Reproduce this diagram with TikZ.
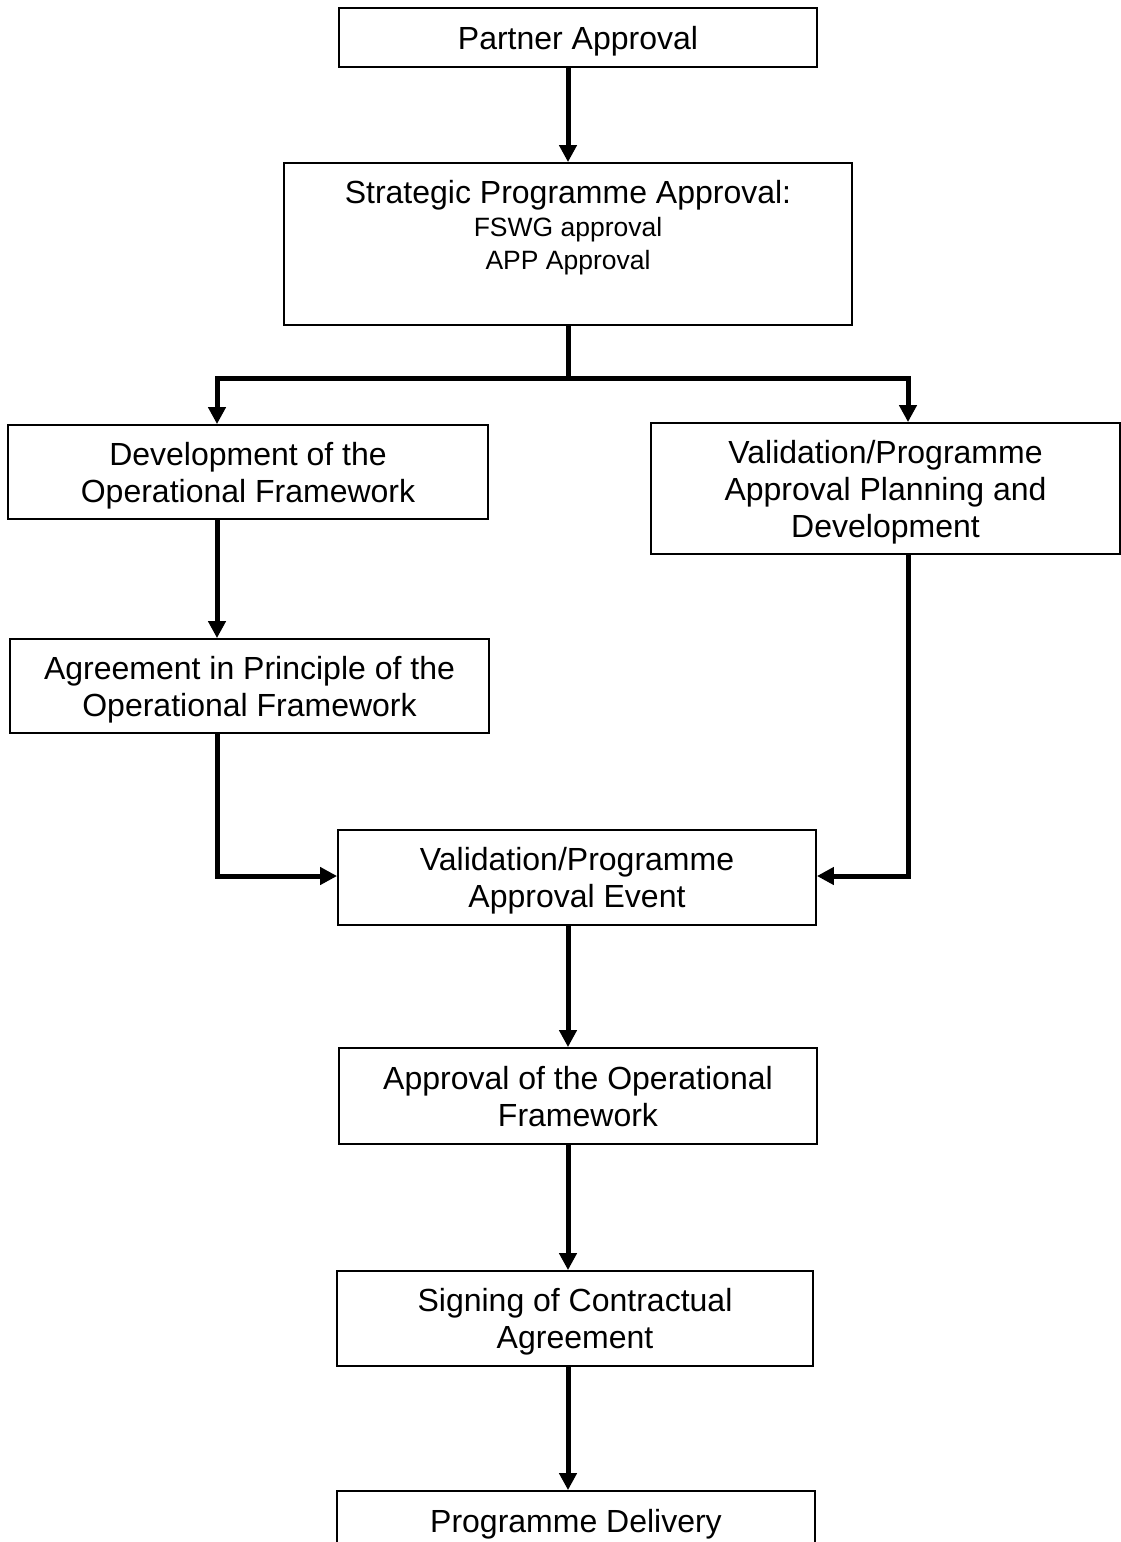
\documentclass[tikz,border=0pt]{standalone}
\usepackage{fontspec}
\setmainfont{Liberation Sans}
\usetikzlibrary{arrows.meta}
\begin{document}
\begin{tikzpicture}[x=1pt,y=-1pt,
  box/.style={draw, line width=1.8pt, inner sep=0pt, align=center, text depth=0pt,
    font=\fontsize{32}{37}\selectfont},
  arr/.style={line width=5pt, -{Triangle[width=17pt,length=17pt]}},
  conn/.style={line width=5pt}]
\useasboundingbox (0,0) rectangle (1121,1542);
\clip (0,0) rectangle (1121,1542);
% boxes
\node[box, minimum width=478pt, minimum height=59pt] (partner) at (578,37.5) {Partner Approval};
\node[box, minimum width=568pt, minimum height=162pt] (strat) at (568,244) {};
\node[inner sep=0pt, align=center, anchor=north, font=\fontsize{32}{33}\selectfont] (strattext) at (568,180)
  {Strategic Programme Approval:\\
   \fontsize{26.5}{32}\selectfont FSWG approval\\
   \fontsize{26.5}{32}\selectfont APP Approval};
\node[box, minimum width=480pt, minimum height=94pt] (dev) at (248,472) {Development of the\\Operational Framework};
\node[box, minimum width=469pt, minimum height=131pt] (valplan) at (885.5,488.5) {Validation/Programme\\Approval Planning and\\Development};
\node[box, minimum width=479pt, minimum height=94pt] (agree) at (249.5,686) {Agreement in Principle of the\\Operational Framework};
\node[box, minimum width=478pt, minimum height=95pt] (valevent) at (577,877.5) {Validation/Programme\\Approval Event};
\node[box, minimum width=478pt, minimum height=96pt] (approval) at (578,1096) {Approval of the Operational\\Framework};
\node[box, minimum width=476pt, minimum height=95pt] (signing) at (575,1318.5) {Signing of Contractual\\Agreement};
\node[box, minimum width=478pt, minimum height=59pt] (delivery) at (576,1520.5) {Programme Delivery};
% helper coordinates
\coordinate (ax) at (568,0);
\coordinate (brM) at (568,378);
\coordinate (brL) at (217,378);
\coordinate (brR) at (908,378);
\coordinate (jL) at (217,876);
\coordinate (jR) at (908,876);
% connectors
\draw[arr] (partner.south -| ax) -- (strat.north -| ax);
\draw[conn] (strat.south -| ax) -- (brM);
\draw[arr] (brM) -- (brL) -- (dev.north -| brL);
\draw[arr] (brM) -- (brR) -- (valplan.north -| brR);
\draw[arr] (dev.south -| brL) -- (agree.north -| brL);
\draw[arr] (agree.south -| jL) -- (jL) -- (valevent.west |- jL);
\draw[arr] (valplan.south -| jR) -- (jR) -- (valevent.east |- jR);
\draw[arr] (valevent.south -| ax) -- (approval.north -| ax);
\draw[arr] (approval.south -| ax) -- (signing.north -| ax);
\draw[arr] (signing.south -| ax) -- (delivery.north -| ax);
\end{tikzpicture}
\end{document}
